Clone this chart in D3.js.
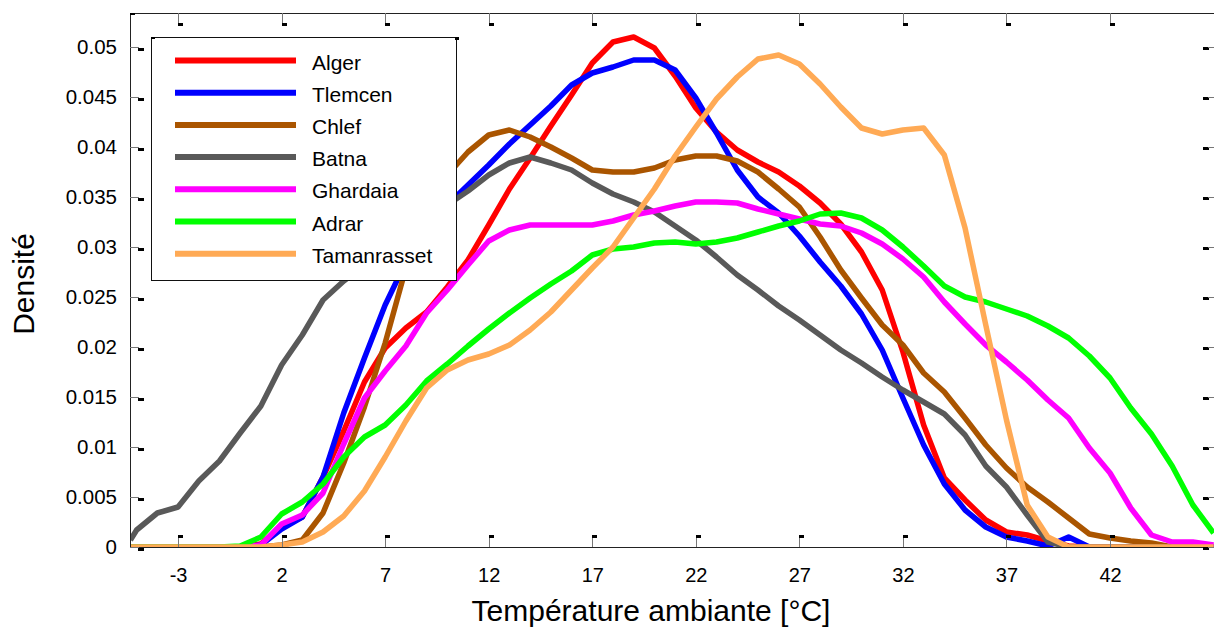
<!DOCTYPE html>
<html><head><meta charset="utf-8">
<script src="https://cdn.jsdelivr.net/npm/d3@7/dist/d3.min.js"></script>
<style>
html,body{margin:0;padding:0;background:#fff;}
svg{display:block;font-family:"Liberation Sans",Arial,sans-serif;}
</style></head><body>
<svg id="chart" width="1214" height="631"></svg>
<script>
const temps = [-5.3,-5,-4,-3,-2,-1,0,1,2,3,4,5,6,7,8,9,10,11,12,13,14,15,16,17,18,19,20,21,22,23,24,25,26,27,28,29,30,31,32,33,34,35,36,37,38,39,40,41,42,43,44,45,46,47];
const alger = [0,0,0,0,0,0,0,0.0003,0.002,0.003,0.007,0.0116,0.0165,0.0199,0.0219,0.0235,0.026,0.0287,0.0322,0.0358,0.0389,0.0421,0.0452,0.0484,0.0505,0.051,0.0499,0.0471,0.0439,0.0415,0.0397,0.0385,0.0375,0.0361,0.0344,0.0323,0.0295,0.0257,0.0195,0.0122,0.0069,0.0047,0.0027,0.0015,0.0012,0.0006,0.0001,0,0,0,0,0,0,0];
const tlemcen = [0,0,0,0,0,0,0,0.0002,0.0018,0.003,0.007,0.0134,0.0189,0.0242,0.0285,0.0317,0.0342,0.0362,0.0382,0.0403,0.0422,0.0441,0.0462,0.0474,0.048,0.0487,0.0487,0.0477,0.0449,0.0414,0.0377,0.035,0.0334,0.0311,0.0285,0.0261,0.0233,0.0197,0.0149,0.0102,0.0063,0.0037,0.002,0.001,0.0006,0.0001,0.001,0,0,0,0,0,0,0];
const chlef = [0,0,0,0,0,0,0,0,0.0002,0.0007,0.0034,0.0084,0.014,0.0204,0.0279,0.0332,0.0372,0.0395,0.0412,0.0417,0.041,0.04,0.0389,0.0377,0.0375,0.0375,0.0379,0.0387,0.0391,0.0391,0.0386,0.0375,0.0358,0.034,0.031,0.0277,0.0249,0.0222,0.0202,0.0174,0.0155,0.0129,0.0102,0.0079,0.006,0.0045,0.0029,0.0013,0.0009,0.0006,0.0004,0,0,0];
const batna = [0.0007,0.0017,0.0034,0.004,0.0066,0.0086,0.0114,0.0141,0.0182,0.0212,0.0247,0.0266,0.0282,0.0298,0.0314,0.0329,0.0342,0.0356,0.0372,0.0384,0.039,0.0384,0.0377,0.0364,0.0353,0.0345,0.0335,0.0321,0.0307,0.029,0.0272,0.0257,0.0241,0.0227,0.0212,0.0197,0.0184,0.017,0.0157,0.0145,0.0133,0.0112,0.0081,0.006,0.0032,0.0005,0,0,0,0,0,0,0,0];
const ghardaia = [0,0,0,0,0,0,0,0.0002,0.0023,0.0032,0.0054,0.0103,0.0149,0.0176,0.0201,0.0234,0.0257,0.0282,0.0306,0.0317,0.0322,0.0322,0.0322,0.0322,0.0326,0.0332,0.0336,0.0341,0.0345,0.0345,0.0344,0.0338,0.0333,0.0328,0.0323,0.0321,0.0314,0.0303,0.0288,0.027,0.0245,0.0223,0.0202,0.0185,0.0167,0.0147,0.0129,0.0099,0.0074,0.0039,0.0012,0.0005,0.0005,0.0002];
const adrar = [0,0,0,0,0,0,0.0001,0.001,0.0033,0.0045,0.0063,0.009,0.011,0.0122,0.0142,0.0166,0.0183,0.0201,0.0218,0.0234,0.0249,0.0263,0.0276,0.0292,0.0298,0.03,0.0304,0.0305,0.0303,0.0305,0.0309,0.0315,0.0321,0.0326,0.0333,0.0334,0.0329,0.0317,0.03,0.0281,0.0261,0.025,0.0245,0.0238,0.0231,0.0221,0.0209,0.0191,0.0169,0.0139,0.0113,0.0081,0.0042,0.0014];
const tamanrasset = [0,0,0,0,0,0,0,0,0.0002,0.0005,0.0015,0.0031,0.0056,0.009,0.0126,0.0159,0.0177,0.0187,0.0193,0.0202,0.0217,0.0235,0.0257,0.0279,0.03,0.0329,0.0358,0.0391,0.042,0.0448,0.047,0.0488,0.0492,0.0483,0.0463,0.044,0.0419,0.0413,0.0417,0.0419,0.0392,0.0319,0.0222,0.0127,0.0042,0.001,0,0,0,0,0,0,0,0];

const seriesNames = ["Alger","Tlemcen","Chlef","Batna","Ghardaia","Adrar","Tamanrasset"];
const seriesValues = [alger,tlemcen,chlef,batna,ghardaia,adrar,tamanrasset];
const seriesColors = ["#ff0000","#0000ff","#aa5500","#595959","#ff00ff","#00ff00","#ffaa55"];
const xTicks = [-3,2,7,12,17,22,27,32,37,42];
const yTicks = [0,0.005,0.01,0.015,0.02,0.025,0.03,0.035,0.04,0.045,0.05];
const yTickLabels = ["0","0.005","0.01","0.015","0.02","0.025","0.03","0.035","0.04","0.045","0.05"];

const L=130, T=13, R=1214, B=547;
const x = d3.scaleLinear().domain([-5.32,47.02]).range([L,R]);
const y = d3.scaleLinear().domain([0,0.0534]).range([B,T]);
const svg = d3.select("#chart");

svg.append("defs").append("clipPath").attr("id","clip").append("rect")
  .attr("x",L).attr("y",T-3).attr("width",R-L).attr("height",B-T+3);

const line = d3.line().x(d=>x(d[0])).y(d=>y(d[1]));
const g = svg.append("g").attr("clip-path","url(#clip)");
seriesValues.forEach((vals,i)=>{
  g.append("path").datum(temps.map((t,j)=>[t,vals[j]]))
    .attr("d",line).attr("fill","none").attr("stroke",seriesColors[i])
    .attr("stroke-width",5.5).attr("stroke-linejoin","round");
});

// axes frame
svg.append("line").attr("x1",L+0.5).attr("x2",L+0.5).attr("y1",T).attr("y2",B).attr("stroke","#222");
svg.append("line").attr("x1",L).attr("x2",R).attr("y1",T+0.5).attr("y2",T+0.5).attr("stroke","#222");
svg.append("line").attr("x1",L).attr("x2",R).attr("y1",B+0.5).attr("y2",B+0.5).attr("stroke","#222");
svg.append("rect").attr("x",L).attr("y",T).attr("width",5).attr("height",2).attr("fill","#000");

// ticks
xTicks.forEach(t=>{
  const px = Math.round(x(t));
  svg.append("line").attr("x1",px+0.5).attr("x2",px+0.5).attr("y1",B-11).attr("y2",B).attr("stroke","#777");
  svg.append("rect").attr("x",px).attr("y",B-12).attr("width",5).attr("height",3).attr("fill","#000");
  svg.append("line").attr("x1",px+0.5).attr("x2",px+0.5).attr("y1",T).attr("y2",T+11).attr("stroke","#777");
  svg.append("rect").attr("x",px).attr("y",T+10).attr("width",5).attr("height",3).attr("fill","#000");
});
yTicks.forEach(t=>{
  const py = Math.round(y(t));
  svg.append("line").attr("x1",L).attr("x2",L+9).attr("y1",py+0.5).attr("y2",py+0.5).attr("stroke","#777");
  svg.append("rect").attr("x",L+8).attr("y",py+1).attr("width",6).attr("height",3).attr("fill","#000");
  svg.append("rect").attr("x",R-11).attr("y",py).attr("width",6).attr("height",3).attr("fill","#000");
  svg.append("line").attr("x1",R-6).attr("x2",R).attr("y1",py+0.5).attr("y2",py+0.5).attr("stroke","#777");
});

// tick labels
const xAxis = d3.axisBottom(x).tickValues(xTicks).tickSize(0).tickPadding(21).tickFormat(d=>String(d));
const xa = svg.append("g").attr("transform",`translate(0,${B})`).call(xAxis);
xa.select(".domain").remove();
xa.selectAll("text").attr("font-size",20).attr("fill","#000").attr("font-family","Liberation Sans, Arial, sans-serif");
const yAxis = d3.axisLeft(y).tickValues(yTicks).tickSize(0).tickPadding(13).tickFormat((d,i)=>yTickLabels[i]);
const ya = svg.append("g").attr("transform",`translate(${L},0)`).call(yAxis);
ya.select(".domain").remove();
ya.selectAll("text").attr("font-size",20.5).attr("fill","#000").attr("font-family","Liberation Sans, Arial, sans-serif");

// axis titles
svg.append("text").attr("x",651).attr("y",621).attr("text-anchor","middle")
  .attr("font-size",30).text("Température ambiante [°C]");
svg.append("text").attr("transform","translate(34,284) rotate(-90)").attr("text-anchor","middle")
  .attr("font-size",30).text("Densité");

// legend
const lg = svg.append("g");
lg.append("rect").attr("x",151.5).attr("y",37.5).attr("width",305).attr("height",243)
  .attr("fill","#fff").attr("stroke","#111").attr("stroke-width",1);
lg.append("rect").attr("x",151).attr("y",37).attr("width",4).attr("height",2).attr("fill","#000");
lg.append("rect").attr("x",455).attr("y",37).attr("width",4).attr("height",3).attr("fill","#000");
seriesNames.forEach((n,i)=>{
  const cy = 60.5 + i*32.2;
  lg.append("line").attr("x1",175).attr("x2",296).attr("y1",cy).attr("y2",cy)
    .attr("stroke",seriesColors[i]).attr("stroke-width",6);
  lg.append("text").attr("x",312).attr("y",cy+9).attr("font-size",21).attr("fill","#000").text(n);
});
</script>
</body></html>
